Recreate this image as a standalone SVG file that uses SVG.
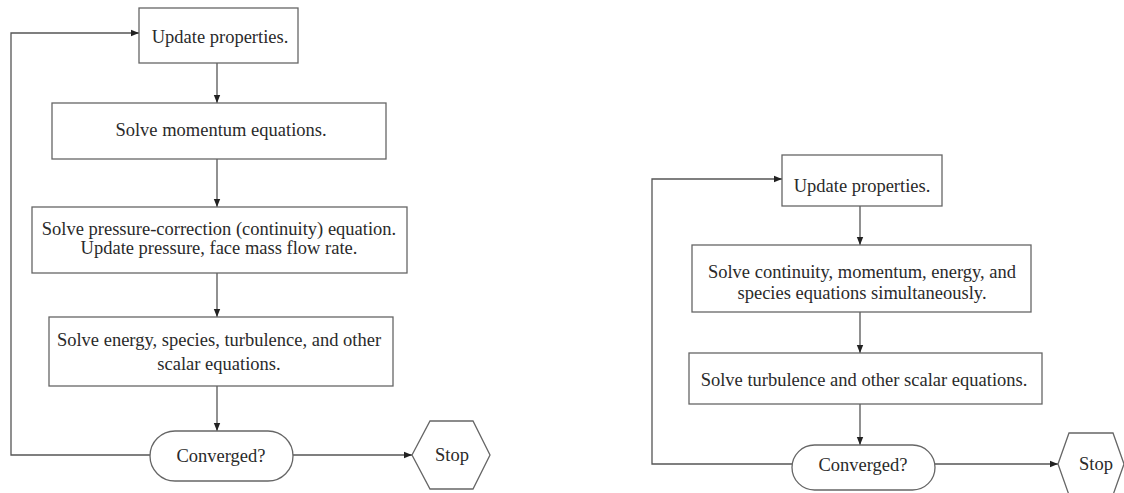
<svg xmlns="http://www.w3.org/2000/svg" width="1124" height="493" viewBox="0 0 1124 493">
<style>
.box{fill:#fff;stroke:#666;stroke-width:1.3}
.ln{fill:none;stroke:#555;stroke-width:1.3}
text{font-family:"Liberation Serif","Times New Roman",serif;font-size:18.5px;fill:#2a2a2a;text-anchor:middle}
</style>
<defs>
<marker id="ah" viewBox="0 0 10 10" refX="10" refY="5" markerWidth="8" markerHeight="8" markerUnits="userSpaceOnUse" orient="auto">
<path d="M0,1 L10,5 L0,9 z" fill="#222"/>
</marker>
</defs>
<rect width="1124" height="493" fill="#fff"/>
<g id="connectors">
<path class="ln" marker-end="url(#ah)" d="M217,63 V103"/>
<path class="ln" marker-end="url(#ah)" d="M217,159 V207"/>
<path class="ln" marker-end="url(#ah)" d="M217,273 V317"/>
<path class="ln" marker-end="url(#ah)" d="M217,386 V431"/>
<path class="ln" marker-end="url(#ah)" d="M150,455 H11 V33 H139"/>
<path class="ln" marker-end="url(#ah)" d="M293,455 H412"/>
<path class="ln" marker-end="url(#ah)" d="M860,206 V245"/>
<path class="ln" marker-end="url(#ah)" d="M860,312 V353"/>
<path class="ln" marker-end="url(#ah)" d="M860,404 V445"/>
<path class="ln" marker-end="url(#ah)" d="M792,464 H652 V179 H782"/>
<path class="ln" marker-end="url(#ah)" d="M935,464 H1058"/>
</g>
<g id="l-update"><rect class="box" x="139" y="8" width="159" height="55"/><text x="220" y="43">Update properties.</text></g>
<g id="l-momentum"><rect class="box" x="52" y="103" width="334" height="56"/><text x="221" y="136">Solve momentum equations.</text></g>
<g id="l-pressure"><rect class="box" x="32" y="207" width="375" height="66"/><text x="219" y="235">Solve pressure-correction (continuity) equation.</text><text x="219" y="254">Update pressure, face mass flow rate.</text></g>
<g id="l-energy"><rect class="box" x="49" y="317" width="344" height="69"/><text x="219" y="346">Solve energy, species, turbulence, and other</text><text x="219" y="370">scalar equations.</text></g>
<g id="l-converged"><rect class="box" x="150" y="431" width="143" height="50" rx="25"/><text x="221" y="462">Converged?</text></g>
<g id="l-stop"><polygon class="box" points="412,455 430,421 473,421 490,455 473,489 430,489"/><text x="452" y="461">Stop</text></g>
<g id="r-update"><rect class="box" x="782" y="155" width="160" height="51"/><text x="862" y="192">Update properties.</text></g>
<g id="r-solve"><rect class="box" x="692" y="245" width="339" height="67"/><text x="862" y="278">Solve continuity, momentum, energy, and</text><text x="862" y="299">species equations simultaneously.</text></g>
<g id="r-turb"><rect class="box" x="689" y="353" width="353" height="51"/><text x="864" y="386">Solve turbulence and other scalar equations.</text></g>
<g id="r-converged"><rect class="box" x="792" y="445" width="143" height="45" rx="22.5"/><text x="863" y="471">Converged?</text></g>
<g id="r-stop"><polygon class="box" points="1058,464 1069,433 1113,433 1124,464 1113,495 1069,495"/><text x="1096" y="470">Stop</text></g>
</svg>
